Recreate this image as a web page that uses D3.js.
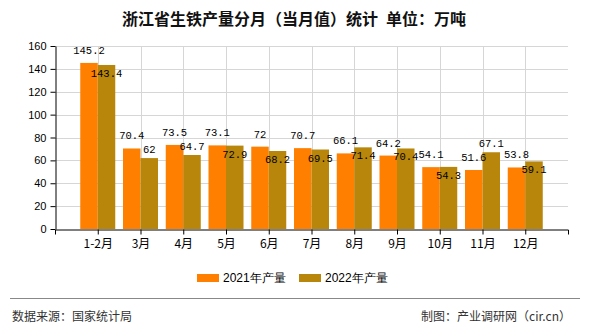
<!DOCTYPE html>
<html>
<head>
<meta charset="utf-8">
<script src="https://cdn.jsdelivr.net/npm/d3@7/dist/d3.min.js"></script>
<style>
  html, body { margin: 0; padding: 0; background: #fff; }
  svg { display: block; }
</style>
</head>
<body>
<svg id="chart" width="590" height="330"></svg>
<script>
// Monthly pig iron output, Zhejiang (10k tonnes)
const months = ["1-2月", "3月", "4月", "5月", "6月", "7月", "8月", "9月", "10月", "11月", "12月"];
const output2021 = [145.2, 70.4, 73.5, 73.1, 72, 70.7, 66.1, 64.2, 54.1, 51.6, 53.8];
const output2022 = [143.4, 62, 64.7, 72.9, 68.2, 69.5, 71.4, 70.4, 54.3, 67.1, 59.1];
const seriesNames = ["2021年产量", "2022年产量"];
const seriesColors = ["#ff8000", "#b8860b"];
const yTicks = [0, 20, 40, 60, 80, 100, 120, 140, 160];

const titleText = "浙江省生铁产量分月（当月值）统计\u2002单位：万吨";
const sourceText = "数据来源：国家统计局";
const creditText = "制图：产业调研网（cir.cn）";

const svg = d3.select("#chart");
const cjk = "'Noto Sans CJK SC', 'Noto Sans', sans-serif";
const sans = "'Liberation Sans', Arial, sans-serif";
const mono = "'Liberation Mono', 'DejaVu Sans Mono', monospace";

const plot = { left: 55, right: 568, top: 46, bottom: 229 };

const x = d3.scalePoint().domain(months).range([plot.left, plot.right]).padding(1);
const y = d3.scaleLinear().domain([0, 160]).range([plot.bottom, plot.top]);
const barW = 17.5;

// title
svg.append("text")
  .attr("x", 294).attr("y", 25)
  .attr("text-anchor", "middle")
  .style("font-family", cjk).style("font-size", "16px").style("font-weight", "600")
  .attr("fill", "#111")
  .text(titleText);

// grid
const grid = svg.append("g").attr("stroke", "#d6d6d6").attr("stroke-width", 1);
grid.selectAll("line.h").data(yTicks.filter(d => d > 0)).join("line")
  .attr("class", "h")
  .attr("x1", plot.left).attr("x2", plot.right)
  .attr("y1", d => Math.round(y(d)) + 0.5).attr("y2", d => Math.round(y(d)) + 0.5);
grid.selectAll("line.v").data(months).join("line")
  .attr("class", "v")
  .attr("x1", d => Math.round(x(d)) + 0.5).attr("x2", d => Math.round(x(d)) + 0.5)
  .attr("y1", plot.top).attr("y2", plot.bottom);

// bars
const series = [output2021, output2022];
const bars = svg.append("g");
series.forEach((vals, s) => {
  bars.selectAll(null).data(vals).join("rect")
    .attr("x", (d, i) => x(months[i]) + (s === 0 ? -barW : 0))
    .attr("width", barW)
    .attr("y", d => y(d))
    .attr("height", d => y(0) - y(d))
    .attr("fill", seriesColors[s]);
});

// axes
const yAxis = svg.append("g")
  .attr("transform", `translate(${plot.left + 0.5},0)`)
  .call(d3.axisLeft(y).tickValues(yTicks).tickSize(5).tickSizeOuter(0).tickPadding(4));
yAxis.selectAll("text").style("font-family", sans).style("font-size", "11px").attr("fill", "#000");

const xAxis = svg.append("g")
  .attr("transform", `translate(0,${plot.bottom + 0.5})`)
  .call(d3.axisBottom(x).tickSize(5).tickSizeOuter(5).tickPadding(5));
xAxis.selectAll("text").style("font-family", cjk).style("font-size", "12px").attr("fill", "#000");
svg.selectAll(".domain, .tick line").attr("stroke", "#000");

// value labels: first series sits above its bar; second series sits above
// its bar unless it would collide with the first series' label, then inside
const labels = svg.append("g")
  .style("font-family", mono).style("font-size", "10.5px").attr("fill", "#000")
  .attr("text-anchor", "middle");

const capH = 7, pad = 3;
months.forEach((m, i) => {
  const c1 = x(m) - barW / 2, c2 = x(m) + barW / 2;
  const t1 = labels.append("text").attr("x", c1).attr("y", y(output2021[i]) - 9).text(output2021[i]);
  const t2 = labels.append("text").attr("x", c2).attr("y", y(output2022[i]) - 5).text(output2022[i]);
  const w1 = t1.node().getComputedTextLength(), w2 = t2.node().getComputedTextLength();
  const b1 = { x0: c1 - w1 / 2, x1: c1 + w1 / 2, y0: y(output2021[i]) - 9 - capH, y1: y(output2021[i]) - 9 };
  const b2 = { x0: c2 - w2 / 2, x1: c2 + w2 / 2, y0: y(output2022[i]) - 5 - capH, y1: y(output2022[i]) - 5 };
  const xOverlap = b1.x1 > b2.x0 && b2.x1 > b1.x0;
  const yOverlap = b1.y1 + pad > b2.y0 && b2.y1 + pad > b1.y0;
  if (xOverlap && yOverlap) t2.attr("y", y(output2022[i]) + 12);
});

// legend
const legend = svg.append("g");
const legendX = [197, 299];
seriesNames.forEach((name, s) => {
  legend.append("rect").attr("x", legendX[s]).attr("y", 274).attr("width", 22).attr("height", 8)
    .attr("fill", seriesColors[s]);
  legend.append("text").attr("x", legendX[s] + 26).attr("y", 282)
    .style("font-family", sans).style("font-size", "12px").attr("fill", "#000")
    .text(name);
});

// footer
svg.append("line").attr("x1", 10).attr("x2", 580).attr("y1", 298.5).attr("y2", 298.5)
  .attr("stroke", "#888").attr("stroke-width", 1);
svg.append("text").attr("x", 12).attr("y", 321)
  .style("font-family", cjk).style("font-size", "12px").attr("fill", "#333")
  .text(sourceText);
svg.append("text").attr("x", 571).attr("y", 321).attr("text-anchor", "end")
  .style("font-family", cjk).style("font-size", "12px").attr("fill", "#333")
  .text(creditText);
</script>
</body>
</html>
